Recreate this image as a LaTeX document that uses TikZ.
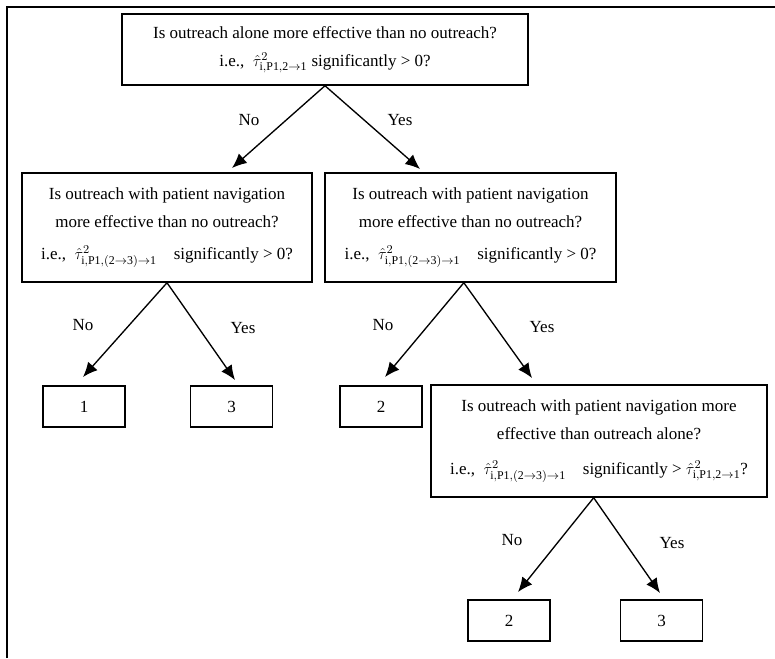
\documentclass[tikz,border=0pt]{standalone}
\usepackage{fontspec}
\setmainfont{Liberation Serif}
\usetikzlibrary{arrows.meta}

\begin{document}
\begin{tikzpicture}
	[x=0.75pt,y=-0.75pt,font=\fontsize{12.75}{21}\selectfont,
	question/.style={rectangle,draw,line width=1.1pt,align=center,inner sep=0pt},
	leaf/.style={rectangle,draw,line width=1.1pt,minimum width=61.5pt,minimum height=30.75pt,inner sep=0pt},
	branch/.style={-{Latex[length=11pt,width=9.5pt]},line width=1pt},
	answer/.style={}]
	\useasboundingbox (0,0) rectangle (775,658);
	\draw [line width=2pt] (7,658) -- (7,7) -- (775,7);
	% questions
	\node[question,minimum width=304.5pt,minimum height=53.25pt] (q0) at (325,49.5)
		{Is outreach alone more effective than no outreach?\\
		i.e.,~~$\hat{\tau}^{2}_{\mathrm{i,P1,2\to1}}$ significantly > 0?};
	\node[question,minimum width=217.5pt,minimum height=81.75pt] (q1) at (167,227.5)
		{Is outreach with patient navigation\\ more effective than no outreach?\\[3pt]
		i.e.,~~$\hat{\tau}^{2}_{\mathrm{i,P1,(2\to3)\to1}}$\quad significantly > 0?};
	\node[question,minimum width=218.25pt,minimum height=81.75pt] (q2) at (470.5,227.5)
		{Is outreach with patient navigation\\ more effective than no outreach?\\[3pt]
		i.e.,~~$\hat{\tau}^{2}_{\mathrm{i,P1,(2\to3)\to1}}$\quad significantly > 0?};
	\node[question,minimum width=252pt,minimum height=84pt] (q3) at (599,441)
		{Is outreach with patient navigation more\\ effective than outreach alone?\\[5pt]
		i.e.,~~$\hat{\tau}^{2}_{\mathrm{i,P1,(2\to3)\to1}}$\quad significantly > $\hat{\tau}^{2}_{\mathrm{i,P1,2\to1}}$?};
	% outcomes
	\node[leaf] (leaf1) at (84,406.5) {1};
	\node[leaf] (leaf3) at (231.5,406.5) {3};
	\node[leaf] (leaf2) at (381,406.5) {2};
	\node[leaf] (leaf2b) at (509,620.5) {2};
	\node[leaf] (leaf3b) at (661.5,620.5) {3};
	% arrow ends
	\coordinate (end0l) at (232,168);
	\coordinate (end0r) at (420,169);
	\coordinate (end1l) at (83,377);
	\coordinate (end1r) at (235,380);
	\coordinate (end2l) at (385,377);
	\coordinate (end2r) at (532,378);
	\coordinate (end3l) at (518,592);
	\coordinate (end3r) at (660,593);
	\draw [branch] (q0.south) -- (end0l);
	\draw [branch] (q0.south) -- (end0r);
	\draw [branch] (q1.south) -- (end1l);
	\draw [branch] (q1.south) -- (end1r);
	\draw [branch] ([xshift=-5pt]q2.south) -- (end2l);
	\draw [branch] ([xshift=-5pt]q2.south) -- (end2r);
	\draw [branch] ([xshift=-4pt]q3.south) -- (end3l);
	\draw [branch] ([xshift=-4pt]q3.south) -- (end3r);
	% answers
	\node[answer] (no0) at (249,120) {No};
	\node[answer] (yes0) at (400,120) {Yes};
	\node[answer] (no1) at (83,325) {No};
	\node[answer] (yes1) at (243,328) {Yes};
	\node[answer] (no2) at (383,325) {No};
	\node[answer] (yes2) at (542,327) {Yes};
	\node[answer] (no3) at (512,540) {No};
	\node[answer] (yes3) at (672,543) {Yes};
\end{tikzpicture}
\end{document}
